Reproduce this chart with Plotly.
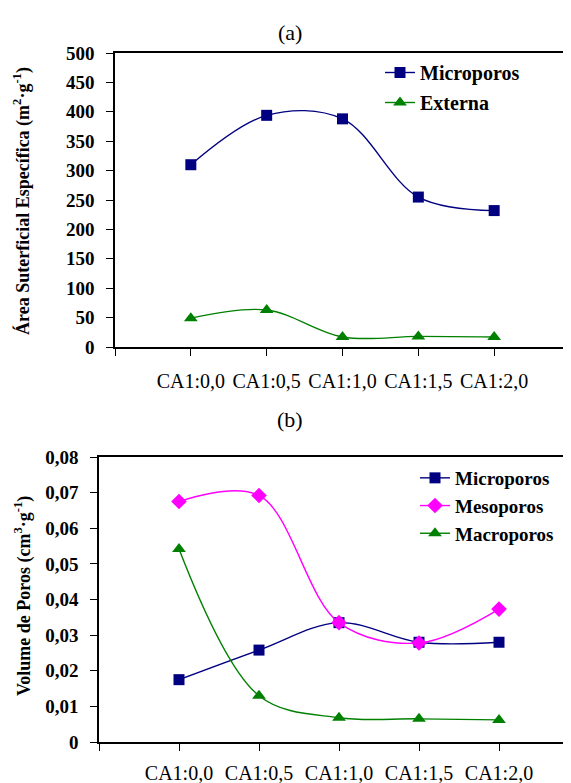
import plotly.graph_objects as go

categories = ["CA1:0,0", "CA1:0,5", "CA1:1,0", "CA1:1,5", "CA1:2,0"]

# (a) specific surface area (m2/g)
area_micro = [310, 394, 388, 255, 232]
area_externa = [49, 63, 17, 18, 17]

# (b) pore volume (cm3/g)
vol_micro = [0.0175, 0.0258, 0.0335, 0.0280, 0.0280]
vol_meso = [0.0675, 0.0692, 0.0335, 0.0278, 0.0373]
vol_macro = [0.0542, 0.0130, 0.0068, 0.0065, 0.0062]

xpos = list(range(1, len(categories) + 1))
tickvals = list(range(0, len(categories) + 2))
ticktext = [""] + categories + [""]

W, H = 571, 783
OFF = 8  # page body margin offset
NAVY = "#000080"
GREEN = "#008000"
MAG = "#FF00FF"
BOLD = "Liberation Serif"
REG = "Liberation Serif"


def px_x(p):
    return (p - OFF) / W


def px_y(p):
    return (H - (p - OFF)) / H


fig = go.Figure()

line_w = 1.4
spl = 1.0

fig.add_trace(go.Scatter(x=xpos, y=area_micro, name="Microporos", mode="lines+markers",
                         line=dict(color=NAVY, width=line_w, shape="spline", smoothing=spl),
                         marker=dict(symbol="square", size=11, color=NAVY),
                         xaxis="x", yaxis="y", legend="legend", legendgroup="a1"))
fig.add_trace(go.Scatter(x=xpos, y=area_externa, name="Externa", mode="lines+markers",
                         line=dict(color=GREEN, width=line_w, shape="spline", smoothing=spl),
                         marker=dict(symbol="triangle-up", size=12, color=GREEN),
                         xaxis="x", yaxis="y", legend="legend", legendgroup="a2"))

fig.add_trace(go.Scatter(x=xpos, y=vol_micro, name="Microporos", mode="lines+markers",
                         line=dict(color=NAVY, width=line_w, shape="spline", smoothing=spl),
                         marker=dict(symbol="square", size=11, color=NAVY),
                         xaxis="x2", yaxis="y2", legend="legend2", legendgroup="b1"))
fig.add_trace(go.Scatter(x=xpos, y=vol_meso, name="Mesoporos", mode="lines+markers",
                         line=dict(color=MAG, width=line_w, shape="spline", smoothing=spl),
                         marker=dict(symbol="diamond", size=12, color=MAG),
                         xaxis="x2", yaxis="y2", legend="legend2", legendgroup="b2"))
fig.add_trace(go.Scatter(x=xpos, y=vol_macro, name="Macroporos", mode="lines+markers",
                         line=dict(color=GREEN, width=line_w, shape="spline", smoothing=spl),
                         marker=dict(symbol="triangle-up", size=12, color=GREEN),
                         xaxis="x2", yaxis="y2", legend="legend2", legendgroup="b3"))

common_axis = dict(showgrid=False, zeroline=False, showline=True, linecolor="black",
                   linewidth=1.5, ticks="outside", ticklen=7, tickwidth=1.2,
                   tickcolor="black", automargin=False)

fig.update_layout(
    width=W, height=H,
    margin=dict(l=0, r=0, t=0, b=0, autoexpand=False),
    paper_bgcolor="white", plot_bgcolor="white",
    xaxis=dict(**common_axis, domain=[px_x(115), px_x(570)], range=[0, 6],
               tickvals=tickvals, ticktext=ticktext, anchor="y", mirror=True,
               tickfont=dict(family=REG, size=20, color="black"), ticklabelstandoff=8),
    yaxis=dict(**common_axis, domain=[px_y(347), px_y(53)], range=[0, 500],
               tickvals=list(range(0, 501, 50)), anchor="x", mirror=True,
               tickfont=dict(family=BOLD, size=19, color="black", weight="bold"),
               ticklabelstandoff=8),
    xaxis2=dict(**common_axis, domain=[px_x(99), px_x(579)], range=[0, 6],
                tickvals=tickvals, ticktext=ticktext, anchor="y2", mirror=True,
                tickfont=dict(family=REG, size=20, color="black"), ticklabelstandoff=5),
    yaxis2=dict(**common_axis, domain=[px_y(742), px_y(457)], range=[0, 0.08],
                tickvals=[0, 0.01, 0.02, 0.03, 0.04, 0.05, 0.06, 0.07, 0.08],
                ticktext=["0", "0,01", "0,02", "0,03", "0,04", "0,05", "0,06", "0,07", "0,08"],
                anchor="x2",
                tickfont=dict(family=BOLD, size=19, color="black", weight="bold"),
                ticklabelstandoff=8),
    legend=dict(x=px_x(380), y=px_y(53), xanchor="left", yanchor="top",
                bgcolor="rgba(0,0,0,0)", tracegroupgap=1,
                font=dict(family=BOLD, size=20, color="black", weight="bold")),
    legend2=dict(x=px_x(415), y=px_y(459), xanchor="left", yanchor="top",
                 bgcolor="rgba(0,0,0,0)", tracegroupgap=0,
                 font=dict(family=BOLD, size=19, color="black", weight="bold")),
    annotations=[
        dict(text="(a)", x=px_x(290), y=px_y(32), xref="paper", yref="paper",
             xanchor="center", yanchor="middle",
             showarrow=False, font=dict(family=REG, size=22, color="black")),
        dict(text="(b)", x=px_x(290), y=px_y(420), xref="paper", yref="paper",
             xanchor="center", yanchor="middle",
             showarrow=False, font=dict(family=REG, size=22, color="black")),
        dict(text="Área Suterficial Específica (m<sup>2</sup>·g<sup>-1</sup>)",
             x=px_x(22), y=px_y(201), xref="paper", yref="paper", textangle=-90,
             xanchor="center", yanchor="middle",
             showarrow=False, font=dict(family=BOLD, size=18, color="black", weight="bold")),
        dict(text="Volume de Poros (cm<sup>3</sup>·g<sup>-1</sup>)",
             x=px_x(23), y=px_y(596), xref="paper", yref="paper", textangle=-90,
             xanchor="center", yanchor="middle",
             showarrow=False, font=dict(family=BOLD, size=18, color="black", weight="bold")),
    ],
)

fig.write_html("out.html")
